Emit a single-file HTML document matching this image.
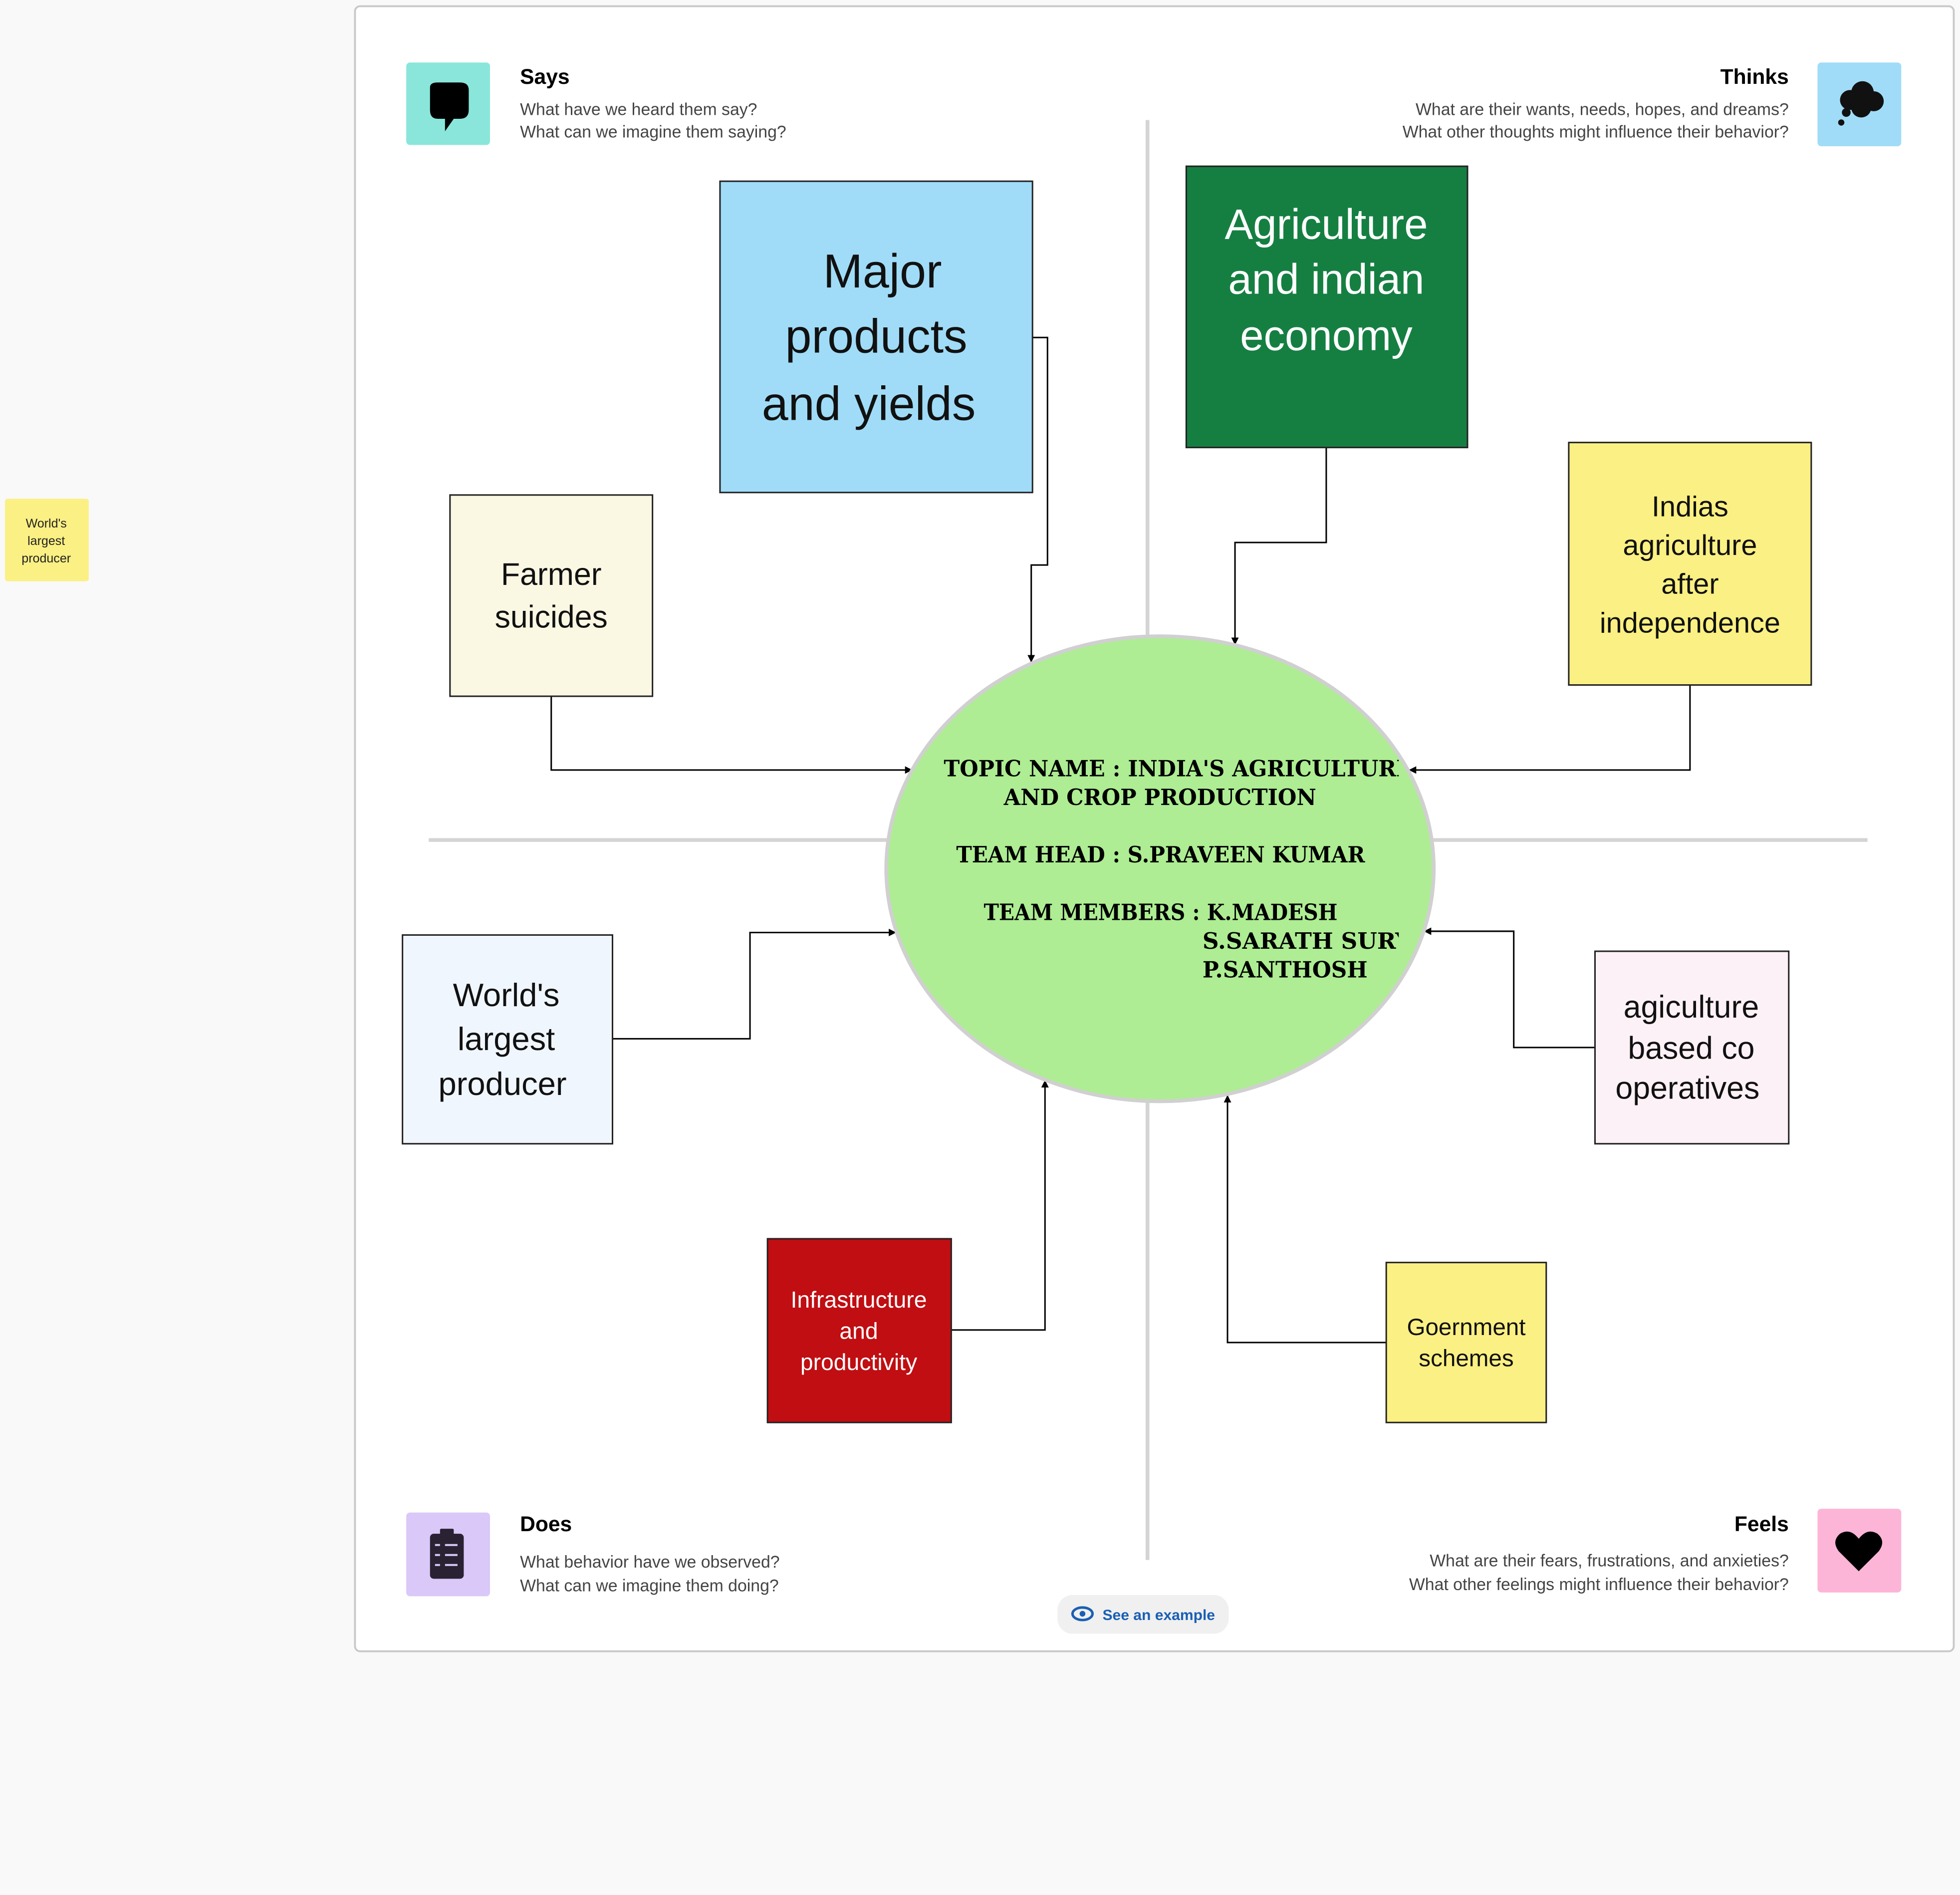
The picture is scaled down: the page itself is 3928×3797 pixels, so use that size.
<!DOCTYPE html>
<html><head><meta charset="utf-8"><style>html,body{margin:0;padding:0;background:#f9f9f9}svg{display:block}</style></head><body>
<svg xmlns="http://www.w3.org/2000/svg" width="3928" height="3797" viewBox="0 0 1568 1516" preserveAspectRatio="none" font-family="Liberation Sans, sans-serif">
<defs>
<marker id="a" viewBox="0 0 10 10" refX="10" refY="5" markerWidth="5" markerHeight="5" orient="auto"><path d="M0,0L10,5L0,10z" fill="#000"/></marker>
<clipPath id="c"><rect x="700" y="500" width="419" height="400"/></clipPath>
</defs>
<rect width="1568" height="1516" fill="#f9f9f9"/>
<rect x="284" y="5" width="1279" height="1316" rx="4" fill="#fff" stroke="#c8c8c8" stroke-width="1.5"/>
<line x1="918" y1="96" x2="918" y2="1248" stroke="#d4d4d4" stroke-width="3"/>
<line x1="343" y1="672" x2="1494" y2="672" stroke="#d4d4d4" stroke-width="3"/>

<!-- sticky left -->
<rect x="4" y="399" width="67" height="66" rx="2" fill="#fbf083"/>
<g font-size="10" text-anchor="middle" fill="#222"><text x="37" y="422">World's</text><text x="37" y="436">largest</text><text x="37" y="450">producer</text></g>

<!-- headers -->
<rect x="325" y="50" width="67" height="66" rx="3" fill="#8ae6da"/>
<path d="M344,70 Q344,66 350,66 L368,66 Q375,66 375,72 L375,88 Q375,95 368,95 L363,95 L356,105 L356,95 L350,95 Q344,95 344,88 Z" fill="#000"/>
<text x="416" y="67" font-size="17" font-weight="bold">Says</text>
<g font-size="13.5" fill="#444"><text x="416" y="92">What have we heard them say?</text><text x="416" y="110">What can we imagine them saying?</text></g>

<rect x="1454" y="50" width="67" height="67" rx="3" fill="#a0dcf7"/>
<g fill="#111"><circle cx="1480" cy="80" r="8"/><circle cx="1490" cy="74" r="9"/><circle cx="1499" cy="81" r="8"/><circle cx="1489" cy="86" r="8"/><circle cx="1477" cy="90" r="3.5"/><circle cx="1473" cy="98" r="2.5"/></g>
<text x="1431" y="67" font-size="17" font-weight="bold" text-anchor="end">Thinks</text>
<g font-size="13.5" fill="#444" text-anchor="end"><text x="1431" y="92">What are their wants, needs, hopes, and dreams?</text><text x="1431" y="110">What other thoughts might influence their behavior?</text></g>

<rect x="325" y="1210" width="67" height="67" rx="3" fill="#d9c8f8"/>
<rect x="344" y="1227" width="27" height="36" rx="3" fill="#2a2233"/>
<rect x="352" y="1223" width="11" height="6" rx="1" fill="#2a2233"/>
<g stroke="#d9c8f8" stroke-width="1.6"><line x1="356" y1="1236" x2="366" y2="1236"/><line x1="356" y1="1244" x2="366" y2="1244"/><line x1="356" y1="1252" x2="366" y2="1252"/><line x1="348" y1="1236" x2="352" y2="1236"/><line x1="348" y1="1244" x2="352" y2="1244"/><line x1="348" y1="1252" x2="352" y2="1252"/></g>
<text x="416" y="1225" font-size="17" font-weight="bold">Does</text>
<g font-size="13.5" fill="#444"><text x="416" y="1254">What behavior have we observed?</text><text x="416" y="1273">What can we imagine them doing?</text></g>

<rect x="1454" y="1207" width="67" height="67" rx="3" fill="#fdb5d7"/>
<path d="M1487,1257 L1471,1241 Q1465,1233 1472,1227 Q1480,1222 1487,1231 Q1494,1222 1502,1227 Q1509,1233 1503,1241 Z" fill="#000"/>
<text x="1431" y="1225" font-size="17" font-weight="bold" text-anchor="end">Feels</text>
<g font-size="13.5" fill="#444" text-anchor="end"><text x="1431" y="1253">What are their fears, frustrations, and anxieties?</text><text x="1431" y="1272">What other feelings might influence their behavior?</text></g>

<rect x="846" y="1276" width="137" height="31" rx="12" fill="#f0f0f0"/>
<ellipse cx="866" cy="1291" rx="8" ry="5" fill="none" stroke="#1a5fb4" stroke-width="2"/><circle cx="866" cy="1291" r="2.3" fill="#1a5fb4"/>
<text x="882" y="1296" font-size="12" font-weight="bold" fill="#1a5fb4">See an example</text>

<!-- connectors -->
<g fill="none" stroke="#000" stroke-width="1.2">
<polyline points="826,270 838,270 838,452 825,452 825,530" marker-end="url(#a)"/>
<polyline points="1061,358 1061,434 988,434 988,516" marker-end="url(#a)"/>
<polyline points="441,557 441,616 730,616" marker-end="url(#a)"/>
<polyline points="1352,548 1352,616 1127,616" marker-end="url(#a)"/>
<polyline points="490,831 600,831 600,746 717,746" marker-end="url(#a)"/>
<polyline points="1276,838 1211,838 1211,745 1139,745" marker-end="url(#a)"/>
<polyline points="761,1064 836,1064 836,864" marker-end="url(#a)"/>
<polyline points="1109,1074 982,1074 982,876" marker-end="url(#a)"/>
</g>

<!-- ellipse -->
<ellipse cx="928" cy="695" rx="219" ry="186" fill="#aeed93" stroke="#d0d0d0" stroke-width="3"/>
<g clip-path="url(#c)" font-family="DejaVu Serif, Liberation Serif, serif" font-weight="bold" font-size="18" fill="#000">
<text x="755" y="621" textLength="375" lengthAdjust="spacingAndGlyphs">TOPIC NAME : INDIA'S AGRICULTURE</text>
<text x="803" y="644" textLength="250" lengthAdjust="spacingAndGlyphs">AND CROP PRODUCTION</text>
<text x="765" y="690" textLength="327" lengthAdjust="spacingAndGlyphs">TEAM HEAD : S.PRAVEEN KUMAR</text>
<text x="787" y="736" textLength="283" lengthAdjust="spacingAndGlyphs">TEAM MEMBERS : K.MADESH</text>
<text x="962" y="759" textLength="180" lengthAdjust="spacingAndGlyphs">S.SARATH SURYA</text>
<text x="962" y="782" textLength="132" lengthAdjust="spacingAndGlyphs">P.SANTHOSH</text>
</g>

<!-- boxes -->
<g stroke="#222" stroke-width="1.2">
<rect x="576" y="145" width="250" height="249" fill="#a0dcf7"/>
<rect x="949" y="133" width="225" height="225" fill="#157f42"/>
<rect x="360" y="396" width="162" height="161" fill="#faf7e3"/>
<rect x="1255" y="354" width="194" height="194" fill="#fbf083"/>
<rect x="322" y="748" width="168" height="167" fill="#f0f6fe"/>
<rect x="1276" y="761" width="155" height="154" fill="#fcf1f6"/>
<rect x="614" y="991" width="147" height="147" fill="#c00e12"/>
<rect x="1109" y="1010" width="128" height="128" fill="#fbf083"/>
</g>
<g text-anchor="middle" fill="#111">
<g font-size="38"><text x="706" y="230">Major</text><text x="701" y="282">products</text><text x="695" y="336">and yields</text></g>
<g font-size="34" fill="#fff"><text x="1061" y="191">Agriculture</text><text x="1061" y="235">and indian</text><text x="1061" y="280">economy</text></g>
<g font-size="25"><text x="441" y="468">Farmer</text><text x="441" y="502">suicides</text></g>
<g font-size="23"><text x="1352" y="413">Indias</text><text x="1352" y="444">agriculture</text><text x="1352" y="475">after</text><text x="1352" y="506">independence</text></g>
<g font-size="26"><text x="405" y="805">World's</text><text x="405" y="840">largest</text><text x="402" y="876">producer</text></g>
<g font-size="25"><text x="1353" y="814">agiculture</text><text x="1353" y="847">based co</text><text x="1350" y="879">operatives</text></g>
<g font-size="18.5" fill="#fff"><text x="687" y="1046">Infrastructure</text><text x="687" y="1071">and</text><text x="687" y="1096">productivity</text></g>
<g font-size="19"><text x="1173" y="1068">Goernment</text><text x="1173" y="1093">schemes</text></g>
</g>
</svg>
</body></html>
